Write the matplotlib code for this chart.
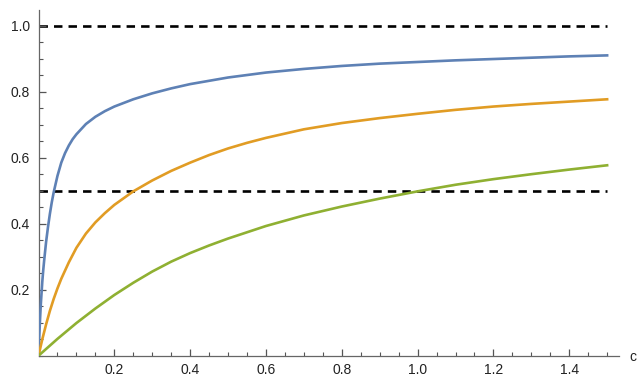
import matplotlib
matplotlib.use("Agg")
import matplotlib.pyplot as plt
from matplotlib.ticker import MultipleLocator

# values
c_blue = [0, 0.002, 0.004, 0.006, 0.008, 0.01, 0.0125, 0.015, 0.02, 0.025, 0.03, 0.035,
          0.04, 0.05, 0.06, 0.07, 0.08, 0.09, 0.1, 0.125, 0.15, 0.175, 0.2, 0.25, 0.3,
          0.35, 0.4, 0.5, 0.6, 0.7, 0.8, 0.9, 1.0, 1.1, 1.2, 1.3, 1.4, 1.5]
blue = [0, 0.06, 0.11, 0.155, 0.19, 0.225, 0.26, 0.29, 0.345, 0.39, 0.43, 0.465,
        0.495, 0.545, 0.585, 0.614, 0.637, 0.656, 0.671, 0.702, 0.724, 0.741, 0.755, 0.777, 0.795,
        0.81, 0.823, 0.843, 0.858, 0.869, 0.878, 0.885, 0.890, 0.895, 0.899, 0.903, 0.907, 0.910]

c_orange = [0, 0.01, 0.02, 0.03, 0.04, 0.05, 0.06, 0.08, 0.1, 0.125, 0.15, 0.175, 0.2,
            0.25, 0.3, 0.35, 0.4, 0.45, 0.5, 0.55, 0.6, 0.7, 0.8, 0.9, 1.0, 1.1, 1.2, 1.3,
            1.4, 1.5]
orange = [0, 0.05, 0.095, 0.136, 0.172, 0.204, 0.233, 0.283, 0.327, 0.370, 0.404, 0.432, 0.457,
          0.498, 0.531, 0.560, 0.585, 0.608, 0.628, 0.645, 0.660, 0.686, 0.705, 0.720, 0.733,
          0.745, 0.755, 0.763, 0.770, 0.777]

c_green = [0, 0.05, 0.1, 0.15, 0.2, 0.25, 0.3, 0.35, 0.4, 0.45, 0.5, 0.6, 0.7, 0.8, 0.9,
           1.0, 1.1, 1.2, 1.3, 1.4, 1.5]
green = [0, 0.051, 0.099, 0.143, 0.184, 0.221, 0.255, 0.285, 0.311, 0.334, 0.355, 0.393,
         0.425, 0.452, 0.476, 0.498, 0.518, 0.535, 0.550, 0.564, 0.577]

ref_levels = [1.0, 0.5]
x_ticks = [0.2, 0.4, 0.6, 0.8, 1.0, 1.2, 1.4]
y_ticks = [0.2, 0.4, 0.6, 0.8, 1.0]

plt.rcParams['font.family'] = ['Liberation Sans', 'DejaVu Sans']

fig = plt.figure(figsize=(6.42, 3.84), dpi=100)
ax = fig.add_axes([0.06, 0.0737, 0.9034, 0.9003])

for lvl in ref_levels:
    ax.plot([0, 1.5], [lvl, lvl], color='black', lw=1.9, dashes=(3.2, 2.3), zorder=1)

ax.plot(c_blue, blue, color='#5E81B5', lw=1.9, zorder=3)
ax.plot(c_orange, orange, color='#E19C24', lw=1.9, zorder=3)
ax.plot(c_green, green, color='#8FB032', lw=1.9, zorder=3)

ax.set_xlim(0, 1.53)
ax.set_ylim(0, 1.0476)

for s in ['top', 'right']:
    ax.spines[s].set_visible(False)
for s in ['left', 'bottom']:
    ax.spines[s].set_color('#666666')
    ax.spines[s].set_linewidth(0.9)

ax.set_xticks(x_ticks)
ax.set_yticks(y_ticks)
ax.set_xticklabels([f"{t:.1f}" for t in x_ticks])
ax.set_yticklabels([f"{t:.1f}" for t in y_ticks])
ax.xaxis.set_minor_locator(MultipleLocator(0.05))
ax.yaxis.set_minor_locator(MultipleLocator(0.05))
ax.tick_params(which='major', direction='in', length=5, width=0.9, color='#555555',
               labelsize=10, labelcolor='#222222')
ax.tick_params(which='minor', direction='in', length=3, width=0.8, color='#555555')
ax.tick_params(axis='x', which='major', pad=5)
ax.tick_params(axis='y', which='major', pad=6)

fig.text(633 / 642, 1 - 357 / 384, 'c', fontsize=10, color='#222222', ha='center', va='center')

fig.savefig('out.png', dpi=100)
